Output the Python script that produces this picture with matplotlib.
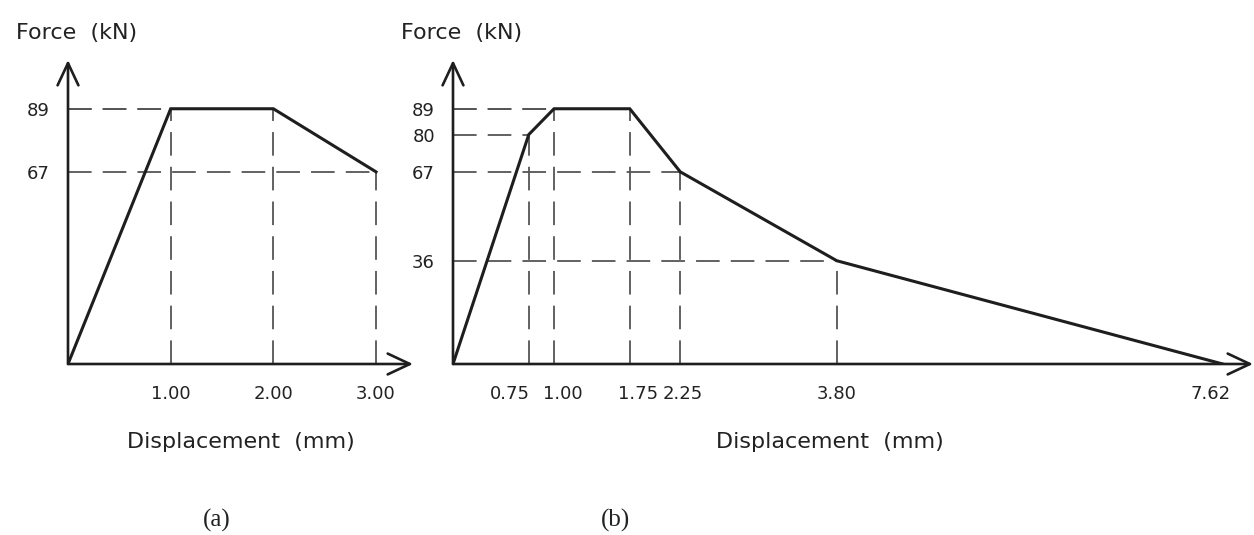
import matplotlib
matplotlib.use("Agg")
import matplotlib.pyplot as plt
from matplotlib.transforms import ScaledTranslation

# panel (a) – tri-linear force/displacement curve
disp_a = [0.0, 1.00, 2.00, 3.00]
force_a = [0, 89, 89, 67]
xticks_a = [1.00, 2.00, 3.00]
yticks_a = [67, 89]

# panel (b) – multi-linear curve
disp_b = [0.0, 0.75, 1.00, 1.75, 2.25, 3.80, 7.62]
force_b = [0, 80, 89, 89, 67, 36, 0]
xticks_b = [0.75, 1.00, 1.75, 2.25, 3.80, 7.62]
yticks_b = [36, 67, 80, 89]

W, H = 1254, 535
plt.rcParams['lines.scale_dashes'] = False
line_col = "#1e1e1e"
dash_col = "#555555"
txt_col = "#222222"

fig = plt.figure(figsize=(W / 100, H / 100), dpi=100)


def px_axes(x0, x1, y_top, y_bot):
    return fig.add_axes([x0 / W, 1 - y_bot / H, (x1 - x0) / W, (y_bot - y_top) / H])


def draw_panel(ax, xs, ys, xt, yt, xmax, ymax, shifts=None):
    ax.set_xlim(0, xmax)
    ax.set_ylim(0, ymax)
    for s in ax.spines.values():
        s.set_visible(False)
    ax.patch.set_alpha(0)
    # guide lines from the axes to every break point
    for x, y in zip(xs[1:], ys[1:]):
        if y == 0:
            continue
        ax.plot([0, x], [y, y], color=dash_col, lw=1.3, dashes=(17, 8), zorder=1)
        ax.plot([x, x], [0, y], color=dash_col, lw=1.3, dashes=(17, 8), zorder=1)
    ax.plot(xs, ys, color=line_col, lw=2.2, solid_joinstyle='miter', zorder=3)
    arrow = dict(arrowstyle='->,head_length=1.6,head_width=0.75', lw=1.9,
                 color=line_col, shrinkA=0, shrinkB=0)
    ax.annotate('', xy=(xmax, 0), xytext=(0, 0), arrowprops=arrow, annotation_clip=False)
    ax.annotate('', xy=(0, ymax), xytext=(0, 0), arrowprops=arrow, annotation_clip=False)
    ax.set_xticks(xt, [f"{v:.2f}" for v in xt])
    ax.set_yticks(yt, [str(v) for v in yt])
    ax.tick_params(length=0, labelsize=13, colors=txt_col)
    ax.tick_params(axis='x', pad=15)
    ax.tick_params(axis='y', pad=13)
    if shifts:
        for lab, dx in zip(ax.get_xticklabels(), shifts):
            lab.set_transform(lab.get_transform() + ScaledTranslation(dx / 100, 0, fig.dpi_scale_trans))


ax_a = px_axes(68, 413, 60, 364)
draw_panel(ax_a, disp_a, force_a, xticks_a, yticks_a, 3.36, 106)

ax_b = px_axes(453, 1253, 60, 364)
draw_panel(ax_b, disp_b, force_b, xticks_b, yticks_b, 7.92, 106,
           shifts=[-19, 9, 8, 2, 0, -12])

for cx, cy, s in [(77, 33, "Force  (kN)"), (462, 33, "Force  (kN)"),
                  (241, 442, "Displacement  (mm)"), (830, 442, "Displacement  (mm)")]:
    fig.text(cx / W, 1 - cy / H, s, ha='center', va='center', fontsize=16, color=txt_col)

for cx, s in [(217, "(a)"), (615, "(b)")]:
    fig.text(cx / W, 1 - 520 / H, s, ha='center', va='center', fontsize=18,
             family='Liberation Serif', color=txt_col)

fig.savefig("out.png", dpi=100)
